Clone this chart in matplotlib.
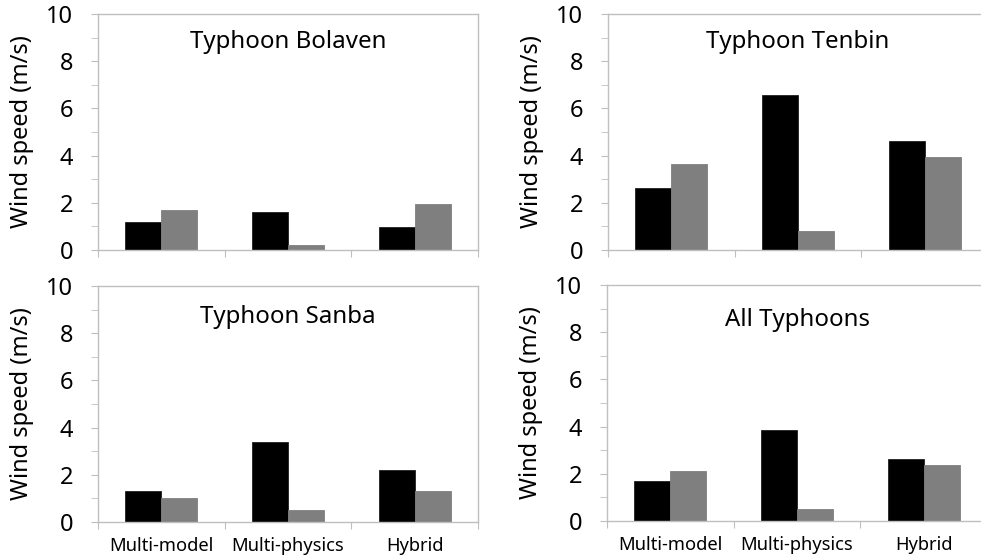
import numpy as np
import matplotlib
matplotlib.use("Agg")
import matplotlib.pyplot as plt

plt.rcParams['font.family'] = ['Noto Sans', 'DejaVu Sans']

methods = ['Multi-model', 'Multi-physics', 'Hybrid']
titles = ['Typhoon Bolaven', 'Typhoon Tenbin', 'Typhoon Sanba', 'All Typhoons']

# black bars / gray bars per typhoon
bolaven_black = [1.19, 1.60, 0.99]
bolaven_gray = [1.70, 0.20, 1.95]
tenbin_black = [2.64, 6.58, 4.62]
tenbin_gray = [3.66, 0.82, 3.92]
sanba_black = [1.30, 3.38, 2.22]
sanba_gray = [1.02, 0.51, 1.33]
all_black = [1.70, 3.85, 2.61]
all_gray = [2.11, 0.49, 2.38]

black_series = [bolaven_black, tenbin_black, sanba_black, all_black]
gray_series = [bolaven_gray, tenbin_gray, sanba_gray, all_gray]

fig = plt.figure(figsize=(9.81, 5.58), dpi=100)

# axes boxes in figure fractions [left, bottom, width, height]
boxes = [
    [0.0999, 0.552, 0.3874, 0.423],
    [0.6198, 0.552, 0.3874, 0.423],
    [0.0999, 0.0645, 0.3874, 0.423],
    [0.6188, 0.0663, 0.3874, 0.423],
]
title_y = [0.88, 0.88, 0.87, 0.85]

edge = '#bfbfbf'
x = np.arange(len(methods))
w = 0.285

for i, box in enumerate(boxes):
    ax = fig.add_axes(box)
    ax.bar(x - w / 2, black_series[i], w, color='black', edgecolor='#202020', linewidth=0.6)
    ax.bar(x + w / 2, gray_series[i], w, color='#7f7f7f', edgecolor='#7f7f7f', linewidth=0.6)
    ax.set_xlim(-0.5, 2.5)
    ax.set_ylim(0, 10)
    ax.set_yticks(np.arange(0, 11, 2))
    ax.set_yticks(np.arange(1, 10, 2), minor=True)
    ax.tick_params(axis='y', which='both', direction='out', color=edge, labelsize=17, length=5, pad=13)
    ax.set_xticks([-0.5, 0.5, 1.5, 2.5])
    ax.set_xticklabels([])
    ax.set_xticks(x, minor=True)
    if i >= 2:
        ax.set_xticklabels(methods, minor=True, fontsize=13.2)
    ax.tick_params(axis='x', which='major', direction='out', color=edge, length=5)
    ax.tick_params(axis='x', which='minor', length=0, pad=11)
    for s in ax.spines.values():
        s.set_color(edge)
        s.set_linewidth(1.0)
    ax.set_ylabel('Wind speed (m/s)', fontsize=17, labelpad=9)
    ax.text(0.5, title_y[i], titles[i], transform=ax.transAxes, ha='center', va='center', fontsize=17.3)

fig.savefig('out.png', dpi=100)
